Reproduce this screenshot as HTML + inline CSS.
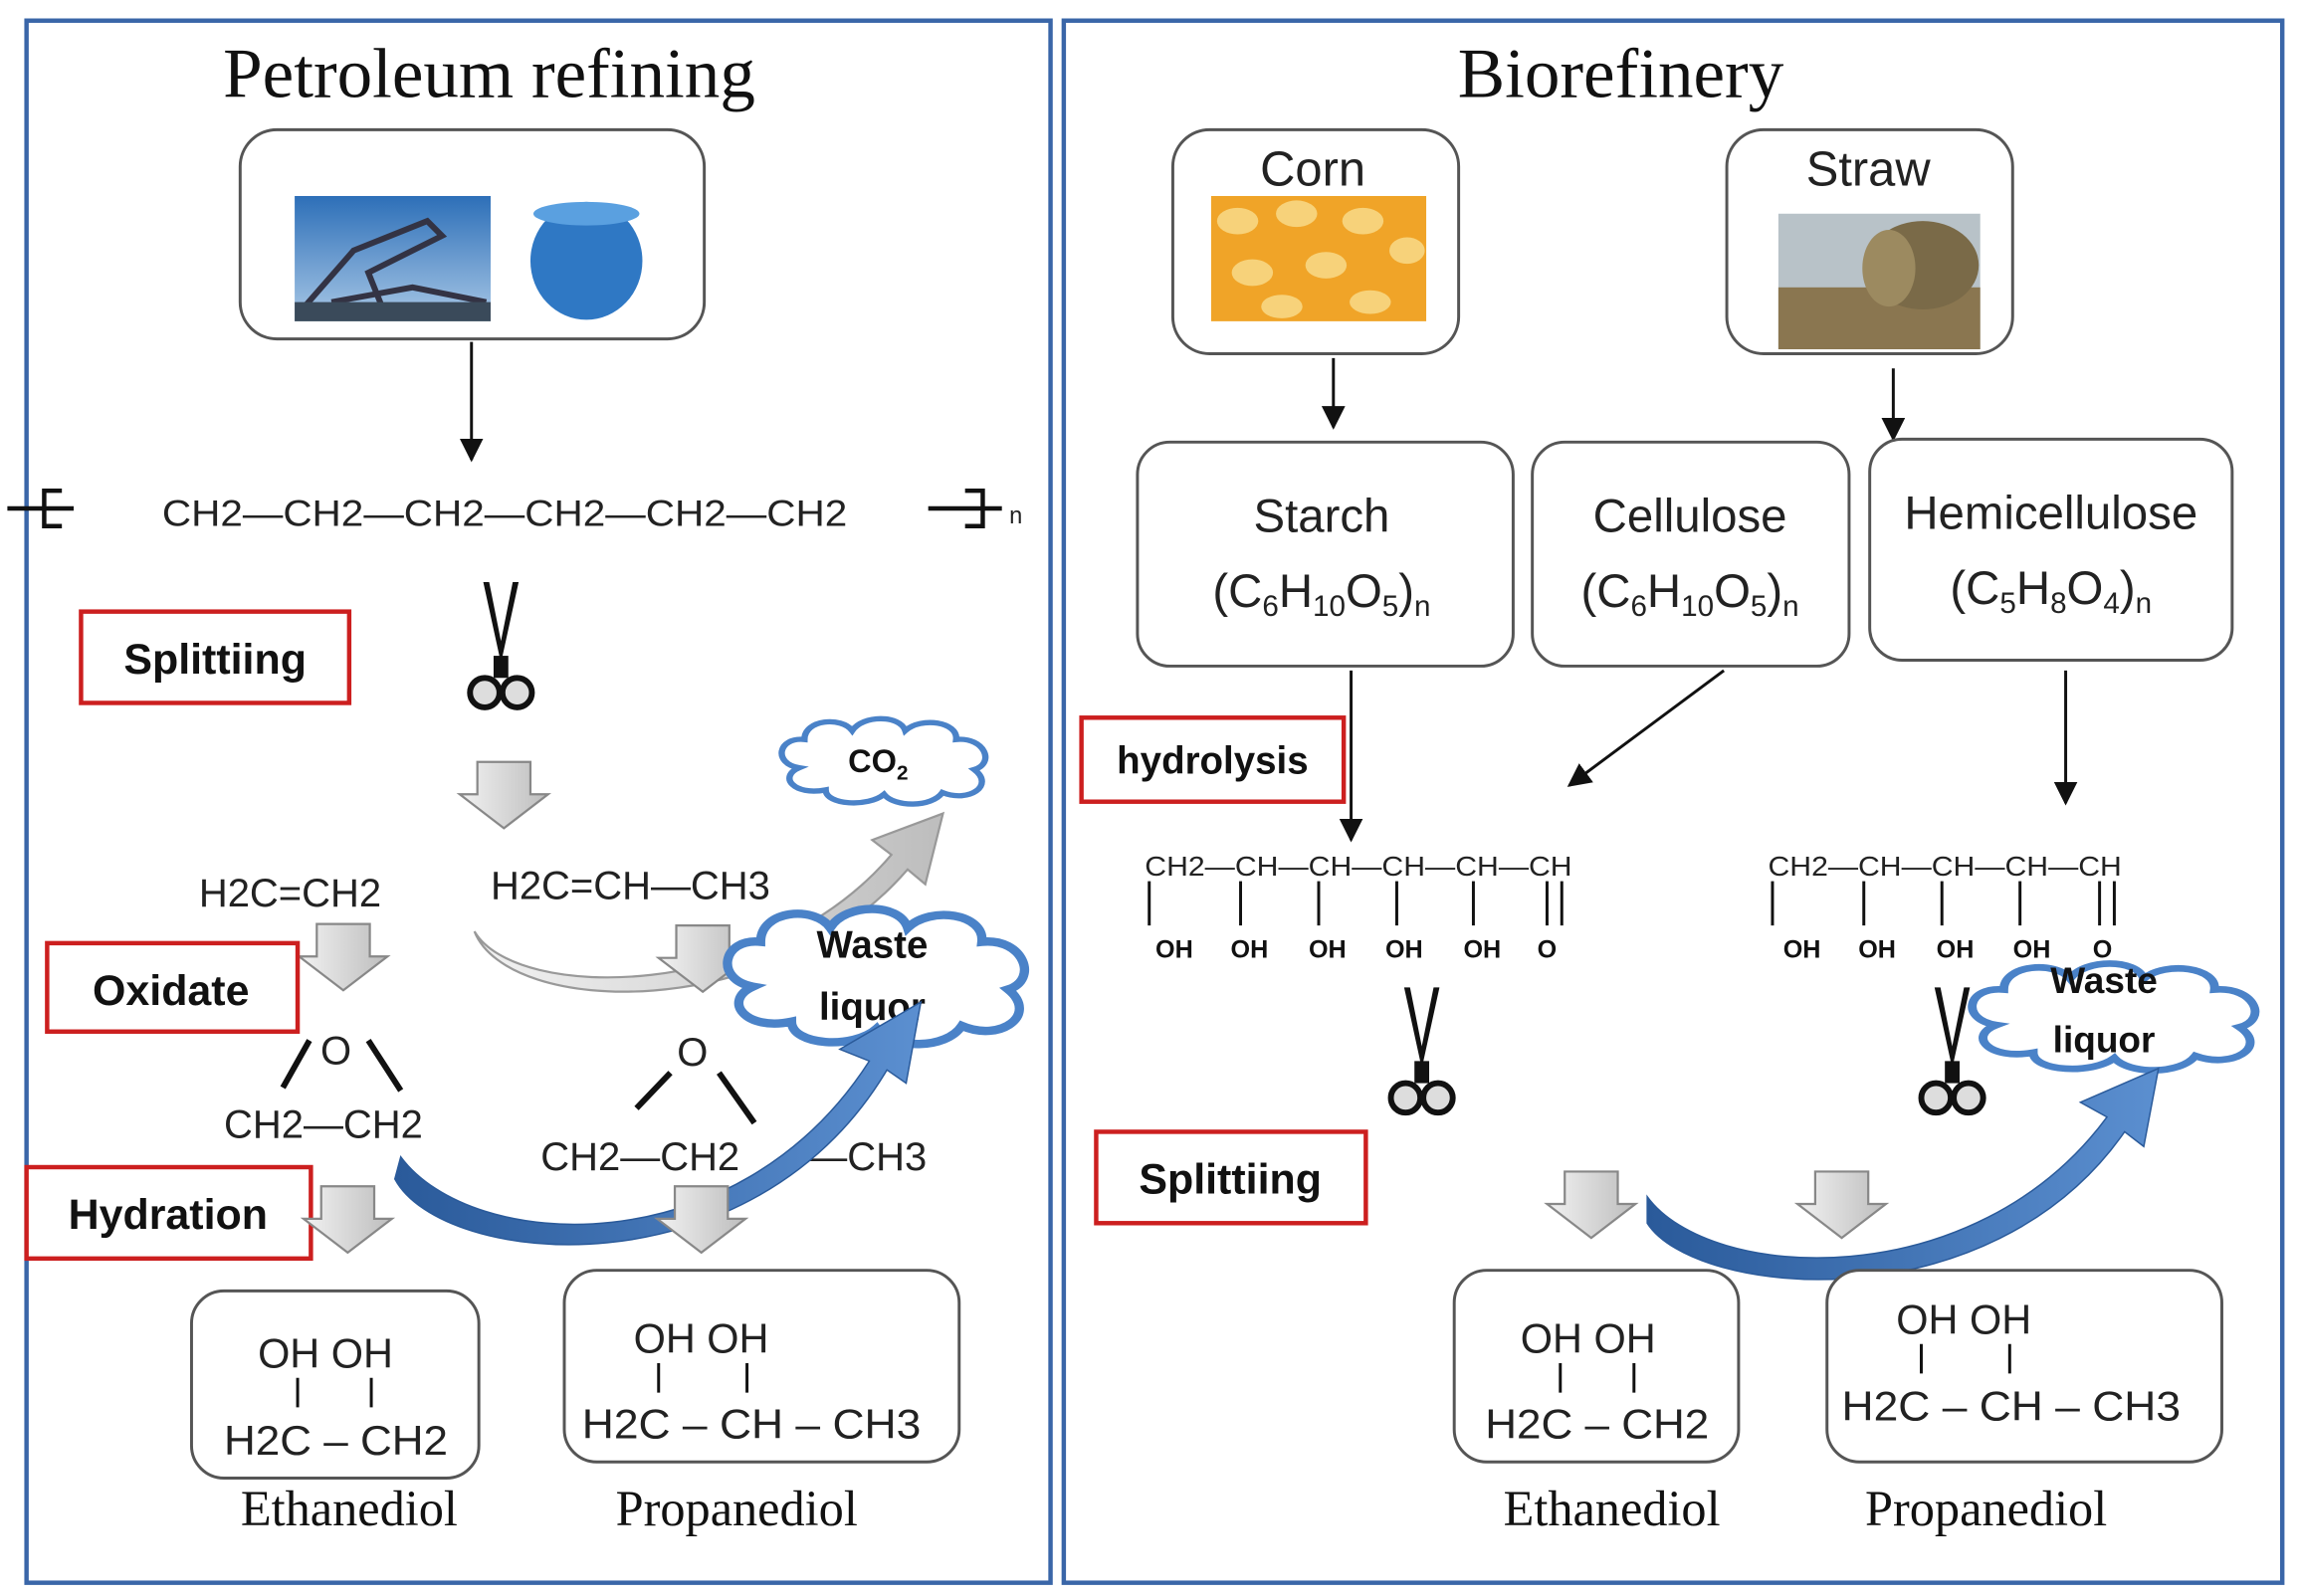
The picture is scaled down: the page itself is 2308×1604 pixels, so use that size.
<!DOCTYPE html>
<html><head><meta charset="utf-8"><style>
html,body{margin:0;padding:0;background:#fff}
svg{display:block}
.s{font-family:"Liberation Sans",sans-serif;fill:#222}
.r{font-family:"Liberation Serif",serif;fill:#111}
.b{font-family:"Liberation Sans",sans-serif;font-weight:bold;fill:#111}
</style></head><body>
<svg width="2308" height="1604" viewBox="0 0 1559 1083" preserveAspectRatio="none" xmlns="http://www.w3.org/2000/svg">
<defs>
<marker id="ah" viewBox="0 0 10 10" refX="9" refY="5" markerWidth="8" markerHeight="8" orient="auto"><path d="M0,0L10,5L0,10z" fill="#111"/></marker>
<linearGradient id="gg" x1="0" y1="0" x2="1" y2="0"><stop offset="0" stop-color="#f2f2f2"/><stop offset="1" stop-color="#bdbdbd"/></linearGradient>
<linearGradient id="bg" x1="0" y1="0" x2="1" y2="0"><stop offset="0" stop-color="#2a5a9a"/><stop offset="1" stop-color="#5b8fd0"/></linearGradient>
<linearGradient id="sky" x1="0" y1="0" x2="0" y2="1"><stop offset="0" stop-color="#2d6fb8"/><stop offset="1" stop-color="#a9c8e6"/></linearGradient>
<g id="sc"><path d="M-12,-50 L0,5 L12,-50 L8,-50 L0,-10 L-8,-50z" fill="#111"/><rect x="-5" y="0" width="10" height="15" fill="#111"/><circle cx="-11" cy="25" r="10" fill="#ddd" stroke="#111" stroke-width="4"/><circle cx="11" cy="25" r="10" fill="#ddd" stroke="#111" stroke-width="4"/></g>
<g id="ga"><path d="M-18,0 H18 V22 H30 L0,45 L-30,22 H-18z" fill="url(#gg)" stroke="#888" stroke-width="1.5"/></g>
<g id="cl"><path d="M-80,10 C-105,5 -100,-25 -75,-22 C-75,-45 -40,-48 -30,-32 C-20,-50 15,-50 20,-32 C35,-48 70,-42 68,-22 C95,-25 105,5 85,12 C105,30 80,50 55,38 C45,55 10,55 0,40 C-15,55 -55,52 -55,35 C-85,42 -100,20 -80,10z" fill="#fff" stroke="#4a82c8" stroke-width="6"/></g>
</defs>
<rect x="18" y="14" width="695" height="1060" fill="none" stroke="#3a66a8" stroke-width="3"/>
<rect x="722" y="14" width="827" height="1060" fill="none" stroke="#3a66a8" stroke-width="3"/>
<text x="332" y="66" class="r" font-size="48" text-anchor="middle">Petroleum refining</text>
<text x="1100" y="66" class="r" font-size="48" text-anchor="middle">Biorefinery</text>

<!-- LEFT -->
<rect x="163" y="88" width="315" height="142" rx="25" fill="#fff" stroke="#555" stroke-width="2"/>
<rect x="200" y="133" width="133" height="85" fill="url(#sky)"/>
<path d="M205,210 L240,170 L290,150 L300,160 L250,185 L260,210 M225,205 L280,195 L330,205" stroke="#334" stroke-width="4" fill="none"/>
<rect x="200" y="205" width="133" height="13" fill="#3a4a5a"/>
<ellipse cx="398" cy="177" rx="38" ry="40" fill="#2f78c4"/><ellipse cx="398" cy="145" rx="36" ry="8" fill="#5aa0e0"/>
<line x1="320" y1="232" x2="320" y2="312" stroke="#111" stroke-width="2" marker-end="url(#ah)"/>
<path d="M5,345 H50 M42,333 H30 V357 H42" stroke="#111" stroke-width="3" fill="none"/>
<text x="110" y="357" class="s" font-size="25" textLength="465" lengthAdjust="spacingAndGlyphs">CH2—CH2—CH2—CH2—CH2—CH2</text>
<path d="M630,345 H680 M655,333 H667 V357 H655" stroke="#111" stroke-width="3" fill="none"/>
<text x="685" y="355" class="s" font-size="16">n</text>
<rect x="55" y="415" width="182" height="62" fill="#fff" stroke="#cc1f1f" stroke-width="3"/>
<text x="146" y="457" class="b" font-size="29" text-anchor="middle">Splittiing</text>
<use href="#sc" x="340" y="445"/>
<use href="#ga" x="342" y="517"/>
<use href="#cl" x="600" y="515" transform="translate(600,515) scale(0.72,0.6) translate(-600,-515)"/>
<text x="596" y="524" class="b" font-size="22" text-anchor="middle">CO<tspan font-size="14" dy="5">2</tspan></text>
<text x="135" y="615" class="s" font-size="27">H2C=CH2</text>
<text x="333" y="610" class="s" font-size="27">H2C=CH—CH3</text>
<path d="M322,632 C350,680 520,680 605,580 L592,570 L640,552 L628,600 L616,590 C525,695 345,690 322,632z" fill="url(#gg)" stroke="#999" stroke-width="1.5"/>
<use href="#ga" x="233" y="627"/>
<use href="#ga" x="477" y="628"/>
<use href="#cl" x="595" y="660" transform="translate(595,660) scale(1.05,0.95) translate(-595,-660)"/>
<text x="592" y="650" class="b" font-size="26" text-anchor="middle">Waste</text>
<text x="592" y="692" class="b" font-size="26" text-anchor="middle">liquor</text>
<rect x="32" y="640" width="170" height="60" fill="#fff" stroke="#cc1f1f" stroke-width="3"/>
<text x="116" y="682" class="b" font-size="29" text-anchor="middle">Oxidate</text>
<text x="228" y="722" class="s" font-size="27" text-anchor="middle">O</text>
<path d="M210,706 L192,738 M250,706 L272,740" stroke="#111" stroke-width="4"/>
<text x="152" y="772" class="s" font-size="27">CH2—CH2</text>
<text x="470" y="723" class="s" font-size="27" text-anchor="middle">O</text>
<path d="M455,728 L432,752 M488,728 L512,762" stroke="#111" stroke-width="4"/>
<text x="367" y="794" class="s" font-size="27">CH2—CH2</text>
<text x="548" y="794" class="s" font-size="27">—CH3</text>
<path d="M272,785 C320,850 500,860 590,720 L570,712 L625,680 L615,735 L602,726 C510,880 300,860 268,800z" fill="url(#bg)" stroke="#2a5a9a" stroke-width="1"/>
<rect x="18" y="792" width="193" height="62" fill="#fff" stroke="#cc1f1f" stroke-width="3"/>
<text x="114" y="834" class="b" font-size="29" text-anchor="middle">Hydration</text>
<use href="#ga" x="236" y="805"/>
<use href="#ga" x="476" y="805"/>
<rect x="130" y="876" width="195" height="127" rx="22" fill="#fff" stroke="#555" stroke-width="2"/>
<text x="175" y="928" class="s" font-size="28">OH  OH</text>
<path d="M202,935 V955 M252,935 V955" stroke="#111" stroke-width="2"/>
<text x="152" y="987" class="s" font-size="28" textLength="152" lengthAdjust="spacingAndGlyphs">H2C – CH2</text>
<rect x="383" y="862" width="268" height="130" rx="22" fill="#fff" stroke="#555" stroke-width="2"/>
<text x="430" y="918" class="s" font-size="28">OH  OH</text>
<path d="M447,925 V945 M507,925 V945" stroke="#111" stroke-width="2"/>
<text x="395" y="976" class="s" font-size="28" textLength="230" lengthAdjust="spacingAndGlyphs">H2C – CH – CH3</text>
<text x="237" y="1035" class="r" font-size="34" text-anchor="middle">Ethanediol</text>
<text x="500" y="1035" class="r" font-size="34" text-anchor="middle">Propanediol</text>

<!-- RIGHT -->
<rect x="796" y="88" width="194" height="152" rx="25" fill="#fff" stroke="#555" stroke-width="2"/>
<text x="891" y="126" class="s" font-size="33" text-anchor="middle">Corn</text>
<rect x="822" y="133" width="146" height="85" fill="#f0a428"/>
<g fill="#f7d27a"><ellipse cx="840" cy="150" rx="14" ry="9"/><ellipse cx="880" cy="145" rx="14" ry="9"/><ellipse cx="925" cy="150" rx="14" ry="9"/><ellipse cx="955" cy="170" rx="12" ry="9"/><ellipse cx="850" cy="185" rx="14" ry="9"/><ellipse cx="900" cy="180" rx="14" ry="9"/><ellipse cx="870" cy="208" rx="14" ry="8"/><ellipse cx="930" cy="205" rx="14" ry="8"/></g>
<rect x="1172" y="88" width="194" height="152" rx="25" fill="#fff" stroke="#555" stroke-width="2"/>
<text x="1268" y="126" class="s" font-size="33" text-anchor="middle">Straw</text>
<rect x="1207" y="145" width="137" height="92" fill="#b8c2c8"/>
<rect x="1207" y="195" width="137" height="42" fill="#8a7650"/>
<ellipse cx="1305" cy="180" rx="38" ry="30" fill="#7a6a48"/><ellipse cx="1282" cy="182" rx="18" ry="26" fill="#9c8a60"/>
<line x1="905" y1="243" x2="905" y2="290" stroke="#111" stroke-width="2" marker-end="url(#ah)"/>
<line x1="1285" y1="250" x2="1285" y2="298" stroke="#111" stroke-width="2" marker-end="url(#ah)"/>
<rect x="772" y="300" width="255" height="152" rx="22" fill="#fff" stroke="#555" stroke-width="2"/>
<text x="897" y="361" class="s" font-size="32" text-anchor="middle">Starch</text>
<text x="897" y="412" class="s" font-size="32" text-anchor="middle">(C<tspan font-size="20" dy="6">6</tspan><tspan dy="-6">H</tspan><tspan font-size="20" dy="6">10</tspan><tspan dy="-6">O</tspan><tspan font-size="20" dy="6">5</tspan><tspan dy="-6">)</tspan><tspan font-size="20" dy="6">n</tspan></text>
<rect x="1040" y="300" width="215" height="152" rx="22" fill="#fff" stroke="#555" stroke-width="2"/>
<text x="1147" y="361" class="s" font-size="32" text-anchor="middle">Cellulose</text>
<text x="1147" y="412" class="s" font-size="32" text-anchor="middle">(C<tspan font-size="20" dy="6">6</tspan><tspan dy="-6">H</tspan><tspan font-size="20" dy="6">10</tspan><tspan dy="-6">O</tspan><tspan font-size="20" dy="6">5</tspan><tspan dy="-6">)</tspan><tspan font-size="20" dy="6">n</tspan></text>
<rect x="1269" y="298" width="246" height="150" rx="22" fill="#fff" stroke="#555" stroke-width="2"/>
<text x="1392" y="359" class="s" font-size="32" text-anchor="middle">Hemicellulose</text>
<text x="1392" y="410" class="s" font-size="32" text-anchor="middle">(C<tspan font-size="20" dy="6">5</tspan><tspan dy="-6">H</tspan><tspan font-size="20" dy="6">8</tspan><tspan dy="-6">O</tspan><tspan font-size="20" dy="6">4</tspan><tspan dy="-6">)</tspan><tspan font-size="20" dy="6">n</tspan></text>
<line x1="917" y1="455" x2="917" y2="570" stroke="#111" stroke-width="2" marker-end="url(#ah)"/>
<line x1="1170" y1="455" x2="1065" y2="533" stroke="#111" stroke-width="2" marker-end="url(#ah)"/>
<line x1="1402" y1="455" x2="1402" y2="545" stroke="#111" stroke-width="2" marker-end="url(#ah)"/>
<rect x="734" y="487" width="178" height="57" fill="#fff" stroke="#cc1f1f" stroke-width="3"/>
<text x="823" y="525" class="b" font-size="26" text-anchor="middle">hydrolysis</text>
<text x="777" y="594" class="s" font-size="19" textLength="290" lengthAdjust="spacingAndGlyphs">CH2—CH—CH—CH—CH—CH</text>
<path d="M780,598 V628 M842,598 V628 M895,598 V628 M948,598 V628 M1000,598 V628 M1050,598 V628 M1060,598 V628" stroke="#111" stroke-width="2"/>
<g class="b" font-size="17" text-anchor="middle"><text x="797" y="650">OH</text><text x="848" y="650">OH</text><text x="901" y="650">OH</text><text x="953" y="650">OH</text><text x="1006" y="650">OH</text><text x="1050" y="650">O</text></g>
<text x="1200" y="594" class="s" font-size="19" textLength="240" lengthAdjust="spacingAndGlyphs">CH2—CH—CH—CH—CH</text>
<path d="M1203,598 V628 M1265,598 V628 M1318,598 V628 M1371,598 V628 M1425,598 V628 M1435,598 V628" stroke="#111" stroke-width="2"/>
<g class="b" font-size="17" text-anchor="middle"><text x="1223" y="650">OH</text><text x="1274" y="650">OH</text><text x="1327" y="650">OH</text><text x="1379" y="650">OH</text><text x="1427" y="650">O</text></g>
<use href="#sc" x="965" y="720"/>
<use href="#sc" x="1325" y="720"/>
<use href="#cl" x="1435" y="688" transform="translate(1435,688) scale(1,0.75) translate(-1435,-688)"/>
<text x="1428" y="674" class="b" font-size="25" text-anchor="middle">Waste</text>
<text x="1428" y="714" class="b" font-size="25" text-anchor="middle">liquor</text>
<rect x="744" y="768" width="183" height="62" fill="#fff" stroke="#cc1f1f" stroke-width="3"/>
<text x="835" y="810" class="b" font-size="29" text-anchor="middle">Splittiing</text>
<use href="#ga" x="1080" y="795"/>
<use href="#ga" x="1250" y="795"/>
<path d="M1118,812 C1160,870 1340,880 1430,758 L1412,748 L1465,725 L1455,778 L1442,768 C1350,900 1150,880 1118,830z" fill="url(#bg)" stroke="#2a5a9a" stroke-width="1"/>
<rect x="987" y="862" width="193" height="130" rx="22" fill="#fff" stroke="#555" stroke-width="2"/>
<text x="1032" y="918" class="s" font-size="28">OH  OH</text>
<path d="M1059,925 V945 M1109,925 V945" stroke="#111" stroke-width="2"/>
<text x="1008" y="976" class="s" font-size="28" textLength="152" lengthAdjust="spacingAndGlyphs">H2C – CH2</text>
<rect x="1240" y="862" width="268" height="130" rx="22" fill="#fff" stroke="#555" stroke-width="2"/>
<text x="1287" y="905" class="s" font-size="28">OH  OH</text>
<path d="M1304,912 V932 M1364,912 V932" stroke="#111" stroke-width="2"/>
<text x="1250" y="964" class="s" font-size="28" textLength="230" lengthAdjust="spacingAndGlyphs">H2C – CH – CH3</text>
<text x="1094" y="1035" class="r" font-size="34" text-anchor="middle">Ethanediol</text>
<text x="1348" y="1035" class="r" font-size="34" text-anchor="middle">Propanediol</text>
</svg>
</body></html>
